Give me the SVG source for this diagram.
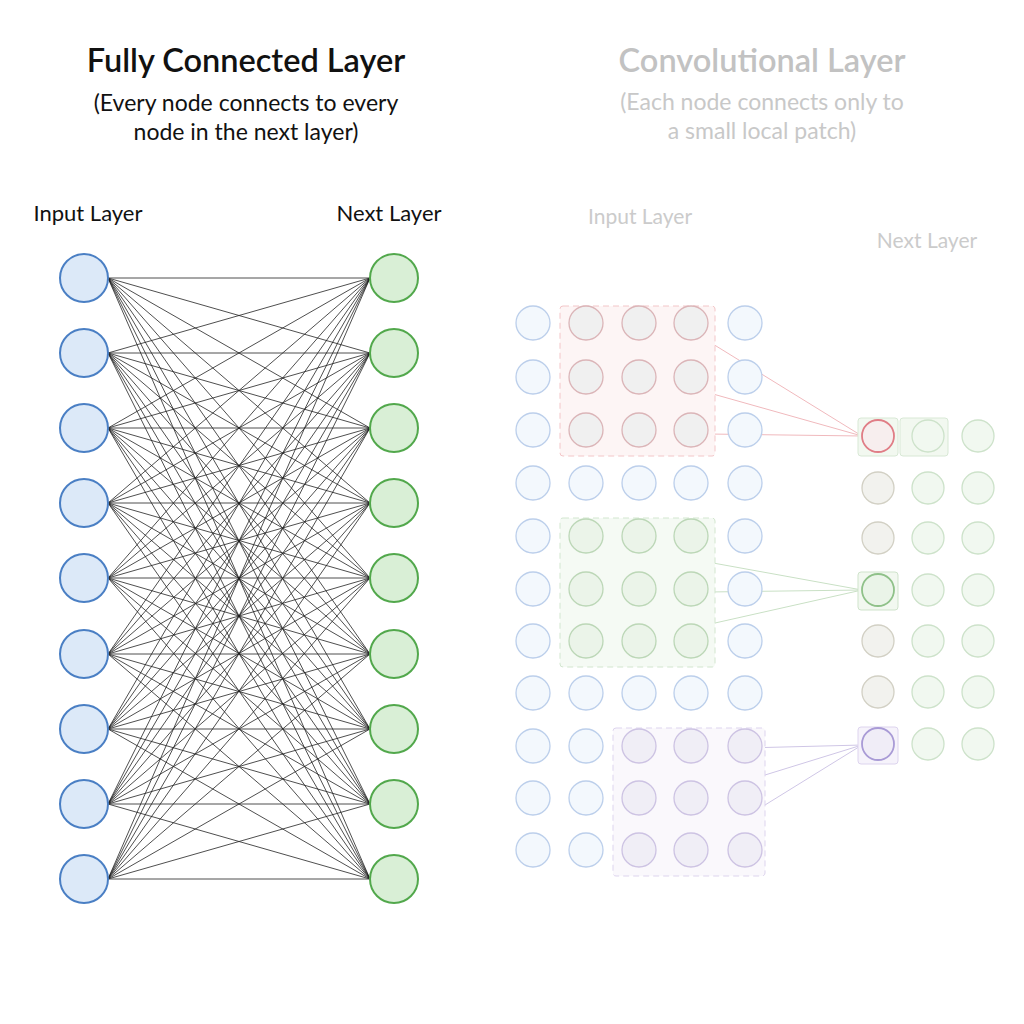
<svg xmlns="http://www.w3.org/2000/svg" width="1024" height="1024" viewBox="0 0 1024 1024">
<style>
text{font-family:"Lato","Liberation Sans",sans-serif;text-anchor:middle}
.t{font-size:32.5px;font-weight:600;fill:#111}
.s{font-size:23px;fill:#111}
.l{font-size:22px;fill:#111}
.tg{font-size:32.5px;font-weight:600;fill:#c2c2c2}
.sg{font-size:23px;fill:#c8c8c8}
.lg{font-size:21px;fill:#cbcbcb}
.in{fill:#dce9f8;stroke:#4a7fc4;stroke-width:2}
.out{fill:#d9efd6;stroke:#52a84c;stroke-width:2}
.fin{fill:#f3f8fd;stroke:#bccfeb;stroke-width:1.3}
.fout{fill:#f1f8f0;stroke:#cde2ca;stroke-width:1.3}
.pr{fill:#f0f0f0;stroke:#dbb5b8;stroke-width:1.3}
.pg{fill:#ebf4e9;stroke:#bcd7b7;stroke-width:1.3}
.pp{fill:#f0eef6;stroke:#cdc3e3;stroke-width:1.3}
</style>
<rect width="1024" height="1024" fill="#fff"/>
<text class="t" x="246" y="72">Fully Connected Layer</text>
<text class="s" x="246" y="111">(Every node connects to every</text>
<text class="s" x="246" y="140">node in the next layer)</text>
<text class="l" x="88" y="221">Input Layer</text>
<text class="l" x="389" y="221">Next Layer</text>
<text class="tg" x="762" y="72">Convolutional Layer</text>
<text class="sg" x="762" y="110">(Each node connects only to</text>
<text class="sg" x="762" y="139">a small local patch)</text>
<text class="lg" x="640" y="224">Input Layer</text>
<text class="lg" x="927" y="248">Next Layer</text>
<g id="connectors">
<path fill="none" stroke="#222" stroke-width="0.8" d="M108 278L370 278M108 278L370 353M108 278L370 428M108 278L370 503M108 278L370 578M108 278L370 654M108 278L370 729M108 278L370 804M108 278L370 879M108 353L370 278M108 353L370 353M108 353L370 428M108 353L370 503M108 353L370 578M108 353L370 654M108 353L370 729M108 353L370 804M108 353L370 879M108 428L370 278M108 428L370 353M108 428L370 428M108 428L370 503M108 428L370 578M108 428L370 654M108 428L370 729M108 428L370 804M108 428L370 879M108 503L370 278M108 503L370 353M108 503L370 428M108 503L370 503M108 503L370 578M108 503L370 654M108 503L370 729M108 503L370 804M108 503L370 879M108 578L370 278M108 578L370 353M108 578L370 428M108 578L370 503M108 578L370 578M108 578L370 654M108 578L370 729M108 578L370 804M108 578L370 879M108 654L370 278M108 654L370 353M108 654L370 428M108 654L370 503M108 654L370 578M108 654L370 654M108 654L370 729M108 654L370 804M108 654L370 879M108 729L370 278M108 729L370 353M108 729L370 428M108 729L370 503M108 729L370 578M108 729L370 654M108 729L370 729M108 729L370 804M108 729L370 879M108 804L370 278M108 804L370 353M108 804L370 428M108 804L370 503M108 804L370 578M108 804L370 654M108 804L370 729M108 804L370 804M108 804L370 879M108 879L370 278M108 879L370 353M108 879L370 428M108 879L370 503M108 879L370 578M108 879L370 654M108 879L370 729M108 879L370 804M108 879L370 879"/>
<path fill="none" stroke="#f0b9bd" stroke-width="1" d="M708 341L862 436M713 394L862 436M708 434L862 436"/>
<path fill="none" stroke="#c9e0c5" stroke-width="1" d="M680 557L862 590M708 592L862 590M715 623L862 590"/>
<path fill="none" stroke="#cfc6e6" stroke-width="1" d="M745 748L862 745M765 775L862 745M765 805L862 745"/>
</g>
<g id="fc-input">
<circle class="in" cx="84" cy="278" r="24"/><circle class="in" cx="84" cy="353" r="24"/><circle class="in" cx="84" cy="428" r="24"/><circle class="in" cx="84" cy="503" r="24"/><circle class="in" cx="84" cy="578" r="24"/><circle class="in" cx="84" cy="654" r="24"/><circle class="in" cx="84" cy="729" r="24"/><circle class="in" cx="84" cy="804" r="24"/><circle class="in" cx="84" cy="879" r="24"/>
</g>
<g id="fc-next">
<circle class="out" cx="394" cy="278" r="24"/><circle class="out" cx="394" cy="353" r="24"/><circle class="out" cx="394" cy="428" r="24"/><circle class="out" cx="394" cy="503" r="24"/><circle class="out" cx="394" cy="578" r="24"/><circle class="out" cx="394" cy="654" r="24"/><circle class="out" cx="394" cy="729" r="24"/><circle class="out" cx="394" cy="804" r="24"/><circle class="out" cx="394" cy="879" r="24"/>
</g>
<g id="patches">
<rect x="560" y="306" width="155" height="150" rx="3" fill="#fdf5f5" stroke="#f3c6c8" stroke-dasharray="6 4"/>
<rect x="560" y="518" width="155" height="149" rx="3" fill="#f5faf4" stroke="#d2e6cf" stroke-dasharray="6 4"/>
<rect x="613" y="728" width="152" height="148" rx="3" fill="#faf8fc" stroke="#ddd4ee" stroke-dasharray="6 4"/>
<rect x="858" y="418" width="40" height="38" rx="3" fill="#f2f8f0" stroke="#d8e8d5"/>
<rect x="900" y="418" width="48" height="38" rx="3" fill="#f2f8f0" stroke="#d8e8d5"/>
<rect x="858" y="572" width="40" height="38" rx="3" fill="#f2f8f0" stroke="#cfe3cb"/>
<rect x="858" y="727" width="40" height="37" rx="3" fill="#f6f3fb" stroke="#ddd4ee"/>
</g>
<g id="conv-input">
<circle class="fin" cx="533" cy="323" r="17"/><circle class="pr" cx="586" cy="323" r="17"/><circle class="pr" cx="639" cy="323" r="17"/><circle class="pr" cx="691" cy="323" r="17"/><circle class="fin" cx="745" cy="323" r="17"/>
<circle class="fin" cx="533" cy="377" r="17"/><circle class="pr" cx="586" cy="377" r="17"/><circle class="pr" cx="639" cy="377" r="17"/><circle class="pr" cx="691" cy="377" r="17"/><circle class="fin" cx="745" cy="377" r="17"/>
<circle class="fin" cx="533" cy="430" r="17"/><circle class="pr" cx="586" cy="430" r="17"/><circle class="pr" cx="639" cy="430" r="17"/><circle class="pr" cx="691" cy="430" r="17"/><circle class="fin" cx="745" cy="430" r="17"/>
<circle class="fin" cx="533" cy="483" r="17"/><circle class="fin" cx="586" cy="483" r="17"/><circle class="fin" cx="639" cy="483" r="17"/><circle class="fin" cx="691" cy="483" r="17"/><circle class="fin" cx="745" cy="483" r="17"/>
<circle class="fin" cx="533" cy="536" r="17"/><circle class="pg" cx="586" cy="536" r="17"/><circle class="pg" cx="639" cy="536" r="17"/><circle class="pg" cx="691" cy="536" r="17"/><circle class="fin" cx="745" cy="536" r="17"/>
<circle class="fin" cx="533" cy="589" r="17"/><circle class="pg" cx="586" cy="589" r="17"/><circle class="pg" cx="639" cy="589" r="17"/><circle class="pg" cx="691" cy="589" r="17"/><circle class="fin" cx="745" cy="589" r="17"/>
<circle class="fin" cx="533" cy="641" r="17"/><circle class="pg" cx="586" cy="641" r="17"/><circle class="pg" cx="639" cy="641" r="17"/><circle class="pg" cx="691" cy="641" r="17"/><circle class="fin" cx="745" cy="641" r="17"/>
<circle class="fin" cx="533" cy="693" r="17"/><circle class="fin" cx="586" cy="693" r="17"/><circle class="fin" cx="639" cy="693" r="17"/><circle class="fin" cx="691" cy="693" r="17"/><circle class="fin" cx="745" cy="693" r="17"/>
<circle class="fin" cx="533" cy="746" r="17"/><circle class="fin" cx="586" cy="746" r="17"/><circle class="pp" cx="639" cy="746" r="17"/><circle class="pp" cx="691" cy="746" r="17"/><circle class="pp" cx="745" cy="746" r="17"/>
<circle class="fin" cx="533" cy="798" r="17"/><circle class="fin" cx="586" cy="798" r="17"/><circle class="pp" cx="639" cy="798" r="17"/><circle class="pp" cx="691" cy="798" r="17"/><circle class="pp" cx="745" cy="798" r="17"/>
<circle class="fin" cx="533" cy="850" r="17"/><circle class="fin" cx="586" cy="850" r="17"/><circle class="pp" cx="639" cy="850" r="17"/><circle class="pp" cx="691" cy="850" r="17"/><circle class="pp" cx="745" cy="850" r="17"/>
</g>
<g id="conv-next">
<circle cx="878" cy="436" r="16" fill="#f7eeee" stroke="#e07d86" stroke-width="1.8"/><circle class="fout" cx="928" cy="436" r="16"/><circle class="fout" cx="978" cy="436" r="16"/>
<circle cx="878" cy="488" r="16" fill="#f2f2ee" stroke="#d2d0c4" stroke-width="1.3"/><circle class="fout" cx="928" cy="488" r="16"/><circle class="fout" cx="978" cy="488" r="16"/>
<circle cx="878" cy="538" r="16" fill="#f2f2ee" stroke="#d2d0c4" stroke-width="1.3"/><circle class="fout" cx="928" cy="538" r="16"/><circle class="fout" cx="978" cy="538" r="16"/>
<circle cx="878" cy="590" r="16" fill="#eaf4e8" stroke="#8fc189" stroke-width="1.8"/><circle class="fout" cx="928" cy="590" r="16"/><circle class="fout" cx="978" cy="590" r="16"/>
<circle cx="878" cy="641" r="16" fill="#f2f2ee" stroke="#d2d0c4" stroke-width="1.3"/><circle class="fout" cx="928" cy="641" r="16"/><circle class="fout" cx="978" cy="641" r="16"/>
<circle cx="878" cy="692" r="16" fill="#f2f2ee" stroke="#d2d0c4" stroke-width="1.3"/><circle class="fout" cx="928" cy="692" r="16"/><circle class="fout" cx="978" cy="692" r="16"/>
<circle cx="878" cy="744" r="16" fill="#f0edf7" stroke="#a99bd6" stroke-width="1.8"/><circle class="fout" cx="928" cy="744" r="16"/><circle class="fout" cx="978" cy="744" r="16"/>
</g>
</svg>
